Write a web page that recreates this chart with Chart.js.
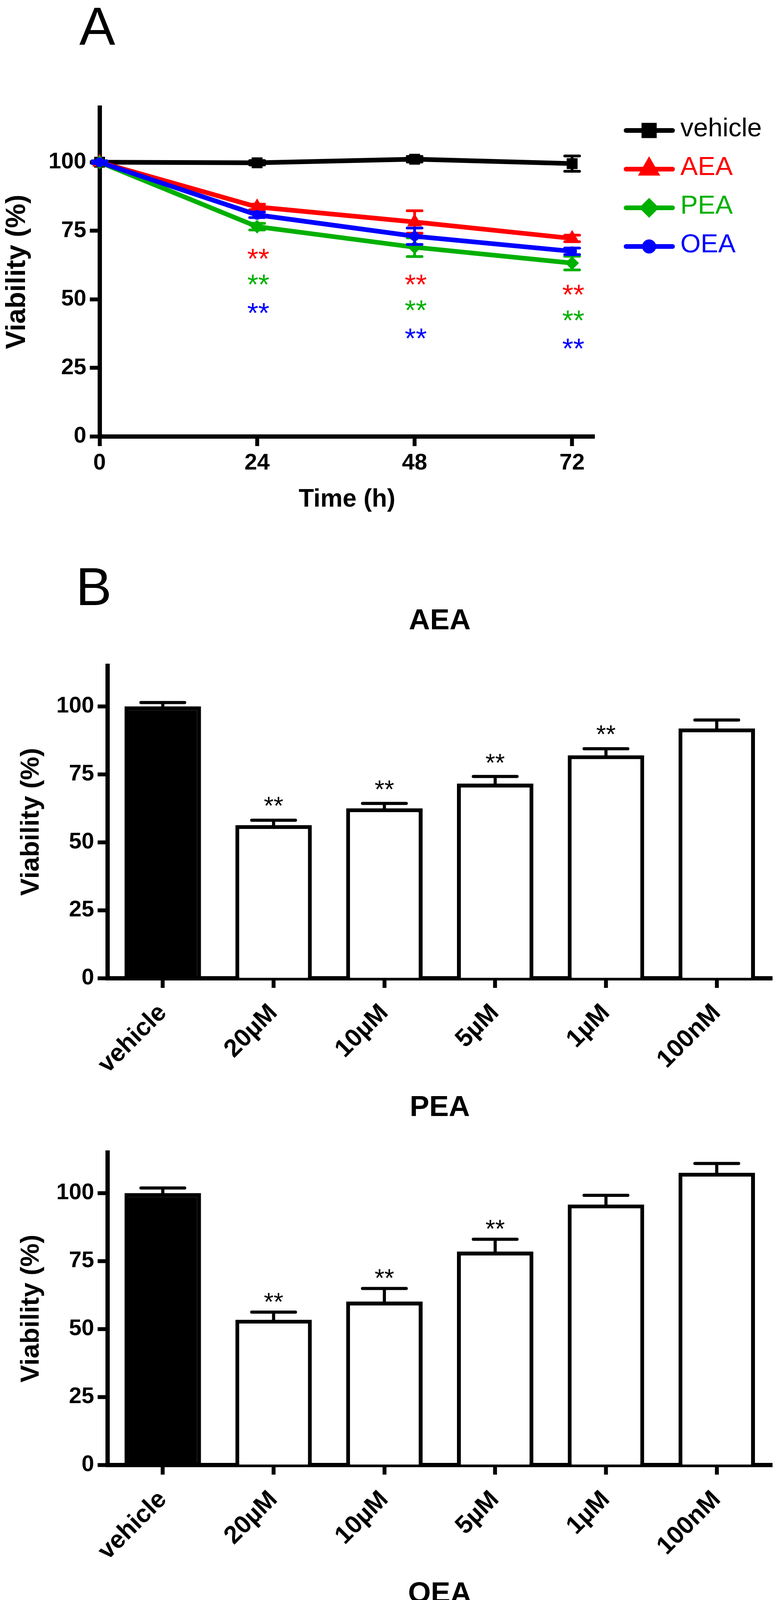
<!DOCTYPE html>
<html lang="en">
<head>
<meta charset="UTF-8">
<title>Viability</title>
<style>
  html, body { margin: 0; padding: 0; background: #fff; }
  body { width: 1992px; height: 5232px; position: relative; overflow: hidden; }
  canvas { position: absolute; left: 0; }
</style>
</head>
<body>
<canvas id="timeChart" width="1992" height="1380" style="top:0px"></canvas>
<canvas id="aeaChart" width="1992" height="1400" style="top:1424px"></canvas>
<canvas id="peaChart" width="1992" height="1400" style="top:2670px"></canvas>
<canvas id="oeaChart" width="1992" height="1400" style="top:3915px"></canvas>
<script src="https://cdn.jsdelivr.net/npm/chart.js"></script>
<script>
// ---- panel A: viability over time ----
const times = [0, 24, 48, 72];
const vehicleMean = [100, 99.8, 101.1, 99.5];
const vehicleSem = [0.5, 0.8, 1.0, 2.8];
const aeaMean = [100, 83.7, 78.2, 72.2];
const aeaSem = [0.5, 1.0, 4.1, 1.2];
const peaMean = [100, 76.5, 69.0, 63.2];
const peaSem = [0.5, 1.2, 3.4, 2.5];
const oeaMean = [100, 80.8, 73.0, 67.5];
const oeaSem = [0.5, 1.0, 3.0, 1.2];
// where the ** marks sit (y value of their centre)
const aeaStars = [null, 67.2, 57.9, 54.2];
const peaStars = [null, 57.9, 48.4, 44.7];
const oeaStars = [null, 47.5, 38.2, 34.5];

// ---- panel B: dose response ----
const doses = ['vehicle', '20µM', '10µM', '5µM', '1µM', '100nM'];
const aeaBar = [100, 56.3, 62.5, 71.6, 82.0, 91.9];
const aeaBarSem = [1.4, 1.8, 1.8, 2.6, 2.4, 3.1];
const aeaBarStars = [null, 65.6, 71.6, 81.4, 91.9, null];
const peaBar = [100, 53.4, 60.1, 78.5, 95.8, 107.5];
const peaBarSem = [1.9, 2.8, 4.8, 4.5, 3.4, 3.4];
const peaBarStars = [null, 62.1, 70.8, 89.0, null, null];
const oeaBar = [100, 40.3, 57.6, 68.1, 90.0, 108.0];
const oeaBarSem = [2.0, 2.3, 2.2, 4.2, 4.2, 3.3];
const oeaBarStars = [null, 48.6, 66.4, 79.8, null, null];

const yTicks = [0, 25, 50, 75, 100];

const FONT = "'Liberation Sans', Arial, sans-serif";
Chart.defaults.font.family = FONT;
Chart.defaults.color = '#000';

const seriesA = [
  { label: 'vehicle', mean: vehicleMean, sem: vehicleSem, stars: null, color: '#000000', point: 'rect', radius: 19 },
  { label: 'AEA', mean: aeaMean, sem: aeaSem, stars: aeaStars, color: '#ff0000', point: 'triangle', radius: 21 },
  { label: 'PEA', mean: peaMean, sem: peaSem, stars: peaStars, color: '#00b000', point: 'rectRot', radius: 17 },
  { label: 'OEA', mean: oeaMean, sem: oeaSem, stars: oeaStars, color: '#0000ff', point: 'circle', radius: 12 }
];

function drawMarker(ctx, style, radius, x, y) {
  if (Chart.helpers && Chart.helpers.drawPoint) {
    Chart.helpers.drawPoint(ctx, { pointStyle: style, radius: radius, borderWidth: 1, rotation: 0 }, x, y);
  } else {
    ctx.beginPath(); ctx.arc(x, y, radius * 0.7, 0, Math.PI * 2); ctx.fill();
  }
}

// error bars drawn just before their own line
const errorBarsA = {
  id: 'errorBarsA',
  beforeDatasetDraw(chart, args) {
    const s = seriesA[args.index];
    const { ctx, scales: { x, y } } = chart;
    ctx.save();
    ctx.strokeStyle = s.color;
    ctx.lineWidth = 7;
    ctx.lineCap = 'round';
    times.forEach((t, i) => {
      const e = s.sem[i];
      const px = x.getPixelForValue(t);
      const top = y.getPixelForValue(s.mean[i] + e);
      const bot = y.getPixelForValue(s.mean[i] - e);
      ctx.beginPath();
      ctx.moveTo(px, top); ctx.lineTo(px, bot);
      ctx.moveTo(px - 19, top); ctx.lineTo(px + 19, top);
      ctx.moveTo(px - 19, bot); ctx.lineTo(px + 19, bot);
      ctx.stroke();
    });
    ctx.restore();
  }
};

const extrasA = {
  id: 'extrasA',
  afterDraw(chart) {
    const { ctx, scales: { x, y } } = chart;
    ctx.save();
    // panel letter
    ctx.fillStyle = '#000';
    ctx.font = '138px ' + FONT;
    ctx.textAlign = 'left';
    ctx.textBaseline = 'alphabetic';
    ctx.fillText('A', 203, 115);

    // significance marks
    ctx.font = '73px ' + FONT;
    ctx.textAlign = 'center';
    seriesA.forEach(s => {
      if (!s.stars) return;
      ctx.fillStyle = s.color;
      times.forEach((t, i) => {
        if (s.stars[i] == null) return;
        ctx.fillText('**', x.getPixelForValue(t) + 3, y.getPixelForValue(s.stars[i]) + 42);
      });
    });

    // legend
    ctx.lineCap = 'round';
    seriesA.forEach((s, i) => {
      const ly = 334 + i * 99;
      ctx.strokeStyle = s.color;
      ctx.fillStyle = s.color;
      ctx.lineWidth = 12;
      ctx.beginPath(); ctx.moveTo(1603, ly); ctx.lineTo(1722, ly); ctx.stroke();
      drawMarker(ctx, s.point, s.radius, 1662, ly);
      ctx.font = '67px ' + FONT;
      ctx.textAlign = 'left';
      ctx.textBaseline = 'middle';
      ctx.fillText(s.label, 1742, ly - 3);
    });
    ctx.restore();
  }
};

new Chart(document.getElementById('timeChart'), {
  type: 'line',
  data: {
    datasets: seriesA.map((s, i) => ({
      label: s.label,
      data: times.map((t, k) => ({ x: t, y: s.mean[k] })),
      borderColor: s.color,
      backgroundColor: s.color,
      borderWidth: 12,
      pointStyle: s.point,
      pointRadius: s.radius,
      pointBorderWidth: 1,
      tension: 0,
      clip: false,
      order: seriesA.length - 1 - i
    }))
  },
  options: {
    responsive: false,
    devicePixelRatio: 1,
    animation: false,
    layout: { autoPadding: false, padding: { left: 0, top: 275, right: 470, bottom: 0 } },
    plugins: { legend: { display: false }, tooltip: { enabled: false } },
    scales: {
      x: {
        type: 'linear', min: 0, max: 75.4, z: 1,
        afterBuildTicks: sc => { sc.ticks = times.map(v => ({ value: v })); },
        afterFit: sc => { sc.height = 263; },
        border: { color: '#000', width: 11 },
        grid: { drawOnChartArea: false, tickLength: 25, tickWidth: 10, tickColor: '#000' },
        ticks: { font: { size: 58, weight: 'bold' }, padding: 9, maxRotation: 0 },
        title: { display: true, text: 'Time (h)', font: { size: 64, weight: 'bold' }, padding: { top: 0, bottom: 62 } }
      },
      y: {
        min: 0, max: 120, z: 1,
        afterBuildTicks: sc => { sc.ticks = yTicks.map(v => ({ value: v })); },
        afterFit: sc => { sc.width = 255; },
        border: { color: '#000', width: 11 },
        grid: { drawOnChartArea: false, tickLength: 25, tickWidth: 10, tickColor: '#000' },
        ticks: { font: { size: 58, weight: 'bold' }, padding: 9 },
        title: { display: true, text: 'Viability (%)', font: { size: 70, weight: 'bold' }, padding: { top: 3, bottom: 0 } }
      }
    }
  },
  plugins: [errorBarsA, extrasA]
});

// ---- bar panels ----
function barExtras(title, sems, stars, letter) {
  return {
    id: 'barExtras',
    afterDatasetsDraw(chart) {
      const { ctx, chartArea, scales: { x, y } } = chart;
      const values = chart.data.datasets[0].data;
      ctx.save();
      ctx.strokeStyle = '#000';
      ctx.fillStyle = '#000';
      ctx.lineWidth = 8;
      ctx.lineCap = 'round';
      values.forEach((v, i) => {
        const px = x.getPixelForValue(i);
        const top = y.getPixelForValue(v + sems[i]);
        ctx.beginPath();
        ctx.moveTo(px, y.getPixelForValue(v)); ctx.lineTo(px, top);
        ctx.moveTo(px - 56, top); ctx.lineTo(px + 56, top);
        ctx.stroke();
      });
      ctx.font = '64px ' + FONT;
      ctx.textAlign = 'center';
      ctx.textBaseline = 'alphabetic';
      stars.forEach((s, i) => {
        if (s == null) return;
        ctx.fillText('**', x.getPixelForValue(i), y.getPixelForValue(s) + 37);
      });
      ctx.font = 'bold 75px ' + FONT;
      ctx.fillText(title, (chartArea.left + chartArea.right) / 2, 187);
      if (letter) {
        ctx.font = '138px ' + FONT;
        ctx.textAlign = 'left';
        ctx.fillText(letter, 194, 125);
      }
      ctx.restore();
    }
  };
}

function barChart(id, title, means, sems, stars, letter) {
  new Chart(document.getElementById(id), {
    type: 'bar',
    data: {
      labels: doses,
      datasets: [{
        data: means,
        backgroundColor: doses.map((d, i) => i === 0 ? '#000' : '#fff'),
        borderColor: '#000',
        borderWidth: 10,
        barPercentage: 0.69,
        categoryPercentage: 1
      }]
    },
    options: {
      responsive: false,
      devicePixelRatio: 1,
      animation: false,
      layout: { autoPadding: false, padding: { left: 0, top: 280, right: 15, bottom: 0 } },
      plugins: { legend: { display: false }, tooltip: { enabled: false } },
      scales: {
        x: {
          offset: true, z: 1,
          afterFit: sc => { sc.height = 320; },
          border: { color: '#000', width: 11 },
          grid: { offset: false, drawOnChartArea: false, tickLength: 25, tickWidth: 10, tickColor: '#000' },
          ticks: { font: { size: 64, weight: 'bold' }, minRotation: 45, maxRotation: 45, padding: 27, autoSkip: false }
        },
        y: {
          min: 0, max: 115, z: 1,
          afterBuildTicks: sc => { sc.ticks = yTicks.map(v => ({ value: v })); },
          afterFit: sc => { sc.width = 275; },
          border: { color: '#000', width: 11 },
          grid: { drawOnChartArea: false, tickLength: 25, tickWidth: 10, tickColor: '#000' },
          ticks: { font: { size: 58, weight: 'bold' }, padding: 9 },
          title: { display: true, text: 'Viability (%)', font: { size: 67, weight: 'bold' }, padding: { top: 40, bottom: 0 } }
        }
      }
    },
    plugins: [barExtras(title, sems, stars, letter)]
  });
}

barChart('aeaChart', 'AEA', aeaBar, aeaBarSem, aeaBarStars, 'B');
barChart('peaChart', 'PEA', peaBar, peaBarSem, peaBarStars, null);
barChart('oeaChart', 'OEA', oeaBar, oeaBarSem, oeaBarStars, null);
</script>
</body>
</html>
